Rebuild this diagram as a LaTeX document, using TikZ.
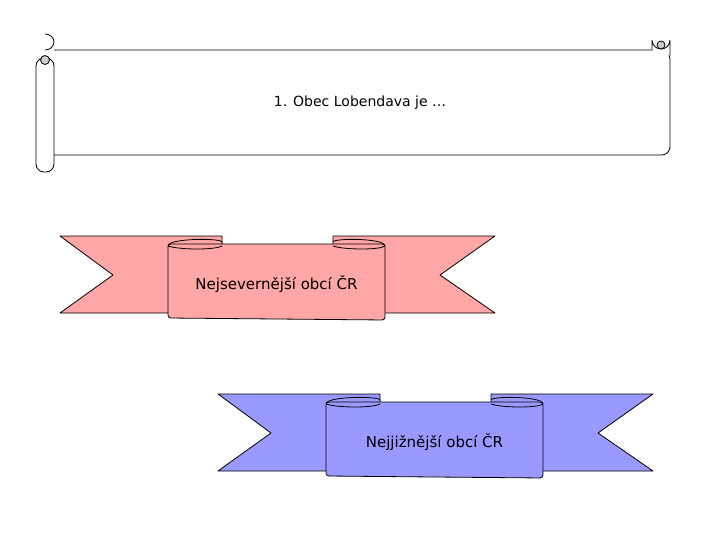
\documentclass[tikz,border=0pt]{standalone}
\usepackage{fontspec}
\setmainfont{DejaVu Sans}
\begin{document}
\begin{tikzpicture}[x=1pt,y=-1pt,line width=0.8pt,
  tail/.style={draw,line join=round},
  lbl/.style={font=\fontsize{15}{18}\selectfont}]
\useasboundingbox (0,0) rectangle (720,540);
% scroll
\draw[fill=white,rounded corners=3pt] (54,50) -- (664,50) -- (670,56) -- (670,150) -- (665,155) -- (54,155);
\draw[fill=white] (652,50) -- (652,40) arc (180:0:9) -- (670,56);
\draw[fill=gray!40] (661,45) circle (4);
\draw[fill=white,rounded corners=8pt] (36,58) rectangle (54,172);
\draw[fill=white] (45,50) arc (90:270:-9 and 8);
\draw[fill=gray!40] (45,60) circle (4.5);
\node[lbl,font=\fontsize{14}{17}\selectfont] (t) at (360,103) {1. Obec Lobendava je …};
% ribbons
\foreach \dx/\col/\txt/\nm in {0/{red!35}/{Nejsevernější obcí ČR}/a, 158/{blue!40}/{Nejjižnější obcí ČR}/b}{
 \begin{scope}[shift={(\dx,\dx)}]
  \draw[tail,fill=\col] (60,236) -- (222,236) -- (222,313) -- (60,313) -- (113,275) -- cycle;
  \draw[tail,fill=\col] (333,236) -- (495,236) -- (440,275) -- (495,313) -- (333,313) -- cycle;
  \draw[fill=\col] (168,246) .. controls (168,238) and (222,238) .. (222,242) -- (222,246);
  \draw[fill=\col] (333,242) .. controls (333,238) and (385,238) .. (385,246);
  \draw[fill=\col,rounded corners=3pt] (168,244) -- (168,318) -- (385,320) -- (385,244) -- cycle;
  \draw (168,246) .. controls (180,250) and (215,250) .. (222,246);
  \draw (333,246) .. controls (345,250) and (380,250) .. (385,246);
  \node[lbl] (\nm) at (276.5,284) {\txt};
 \end{scope}}
\end{tikzpicture}
\end{document}
